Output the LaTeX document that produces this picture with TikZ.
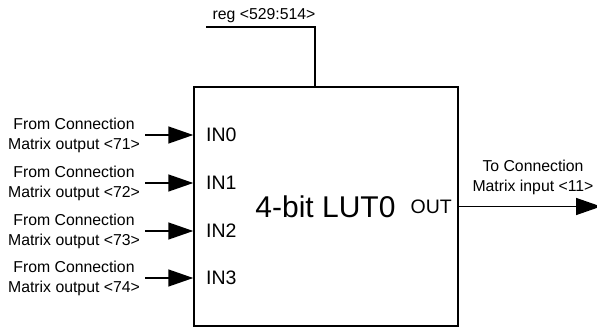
\documentclass[tikz,border=0pt]{standalone}
\usepackage{fontspec}
\setmainfont{Liberation Sans}
\usetikzlibrary{arrows.meta}
\begin{document}
\begin{tikzpicture}[x=1pt,y=-1pt,
  wire/.style={line width=1.5pt},
  arr/.style={wire,-{Triangle[length=25pt,width=17pt]}},
  lab/.style={align=center,font=\fontsize{15.8}{20}\selectfont,inner ysep=0pt,inner xsep=5pt},
  pin/.style={font=\fontsize{19.5}{22}\selectfont,inner sep=0pt}]
\useasboundingbox (0,0) rectangle (597,329);
\node[draw,line width=1.5pt,minimum width=264pt,minimum height=239pt,inner sep=0pt] (lut) at (326,206.5) {};
\node[font=\fontsize{30}{34}\selectfont,inner sep=0pt] (title) at (325.5,207) {4-bit LUT0};
% inputs
\node[lab] (l0) at (74,135) {From Connection\\Matrix output <71>};
\node[lab] (l1) at (74,183) {From Connection\\Matrix output <72>};
\node[lab] (l2) at (74,231) {From Connection\\Matrix output <73>};
\node[lab] (l3) at (74,278) {From Connection\\Matrix output <74>};
\draw[arr] (l0.east) -- (l0.east -| lut.west);
\draw[arr] (l1.east) -- (l1.east -| lut.west);
\draw[arr] (l2.east) -- (l2.east -| lut.west);
\draw[arr] (l3.east) -- (l3.east -| lut.west);
\node[pin,anchor=west] (in0) at (206,135) {IN0};
\node[pin,anchor=west] (in1) at (206,183) {IN1};
\node[pin,anchor=west] (in2) at (206,231) {IN2};
\node[pin,anchor=west] (in3) at (206,278) {IN3};
% output
\node[pin,anchor=east] (out) at (452,206.5) {OUT};
\coordinate (oend) at (601,206.5);
\draw[arr] (out.east -| lut.east) -- (oend);
\node[lab] (ol) at (533,177.5) {To Connection\\Matrix input <11>};
% reg
\coordinate (rs) at (206,27);
\coordinate (rc) at (315,27);
\draw[wire] (rs) -- (rc) -- (rc |- lut.north);
\node[lab,anchor=base] (reg) at (264,20) {reg <529:514>};
\end{tikzpicture}
\end{document}
